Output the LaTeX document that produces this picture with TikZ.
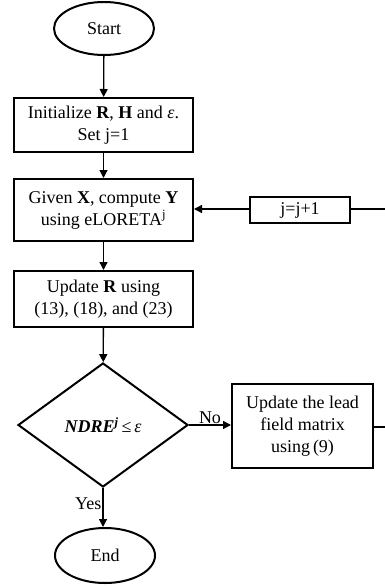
\documentclass[tikz,border=0pt]{standalone}
\usepackage{fontspec}
\setmainfont{Liberation Serif}
\usetikzlibrary{shapes.geometric,arrows.meta}
\tikzset{
  txt/.style={font=\fontsize{18}{22}\selectfont},
  box/.style={draw, line width=2pt, minimum width=179pt, align=center, txt, inner sep=2pt},
  term/.style={draw, ellipse, line width=2pt, minimum width=100pt, minimum height=53pt, txt, inner sep=0pt},
  dec/.style={draw, diamond, line width=2pt, minimum width=170pt, minimum height=124pt, inner sep=0pt, txt},
  conn/.style={line width=1.3pt, -{Triangle[length=8pt,width=8pt]}},
  plain/.style={line width=1.3pt},
  lbl/.style={txt, inner sep=1pt}
}
\begin{document}
\begin{tikzpicture}[x=1pt,y=-1pt]
\useasboundingbox (0,0) rectangle (385,586);
\node[term] (start) at (104,28.5) {Start};
\node[box, minimum height=54pt] (init) at (103.5,125) {Initialize \textbf{R}, \textbf{H} and \textit{ε}.\\ Set j=1};
\node[box, minimum height=62pt] (given) at (103.5,210) {Given \textbf{X}, compute \textbf{Y}\\ using eLORETA\textsuperscript{j}};
\node[box, minimum height=56pt] (upd) at (103.5,299) {Update \textbf{R} using\\ (13), (18), and (23)};
\node[dec] (dec) at (103,425) {\textbf{\textit{NDRE\textsuperscript{j}}}\,≤\,\textit{ε}};
\node[box, minimum width=141pt, minimum height=84pt] (lead) at (302.5,426) {Update the lead\\ field matrix\\ using\,(9)};
\node[box, minimum width=100pt, minimum height=26pt] (jj) at (300,210) {j=j+1};
\node[term, minimum height=55pt] (end) at (105,555.5) {End};
\coordinate (e1) at (385,427);
\coordinate (e2) at (385,209);
\draw[conn] (start) -- (init);
\draw[conn] (init) -- (given);
\draw[conn] (given) -- (upd);
\draw[conn] (upd) -- (dec);
\draw[conn] (dec.east) -- node[lbl, above] {No} (lead.west |- dec.east);
\draw[conn] (dec.south) -- node[lbl, left, pos=0.4] {Yes} (end.north -| dec.south);
\draw[plain] (lead.east |- e1) -- (e1);
\draw[plain] (e2) -- (jj.east |- e2);
\draw[conn] (jj.west |- e2) -- (given.east |- e2);
\end{tikzpicture}
\end{document}
